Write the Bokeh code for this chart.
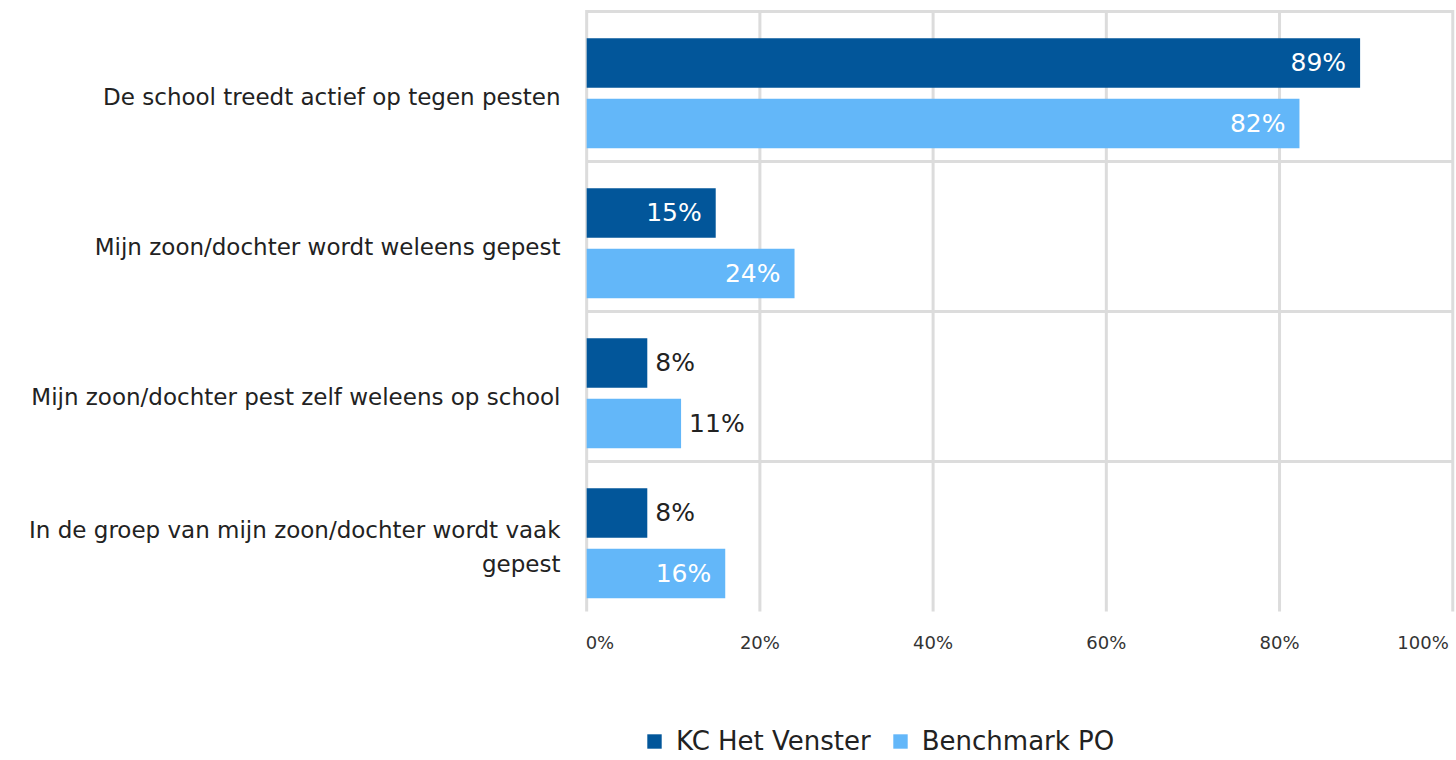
from bokeh.plotting import figure
from bokeh.models import FixedTicker, Legend, LegendItem, Range1d, ColumnDataSource
from bokeh.embed import file_html
from bokeh.resources import INLINE
from bokeh.core.properties import value

# ---- data ----
categories = [
    "De school treedt actief op tegen pesten",
    "Mijn zoon/dochter wordt weleens gepest",
    "Mijn zoon/dochter pest zelf weleens op school",
    "In de groep van mijn zoon/dochter wordt vaak\ngepest",
]
series_names = ["KC Het Venster", "Benchmark PO"]
kc_values = [89.3, 14.9, 7.0, 7.0]
kc_labels = ["89%", "15%", "8%", "8%"]
bench_values = [82.3, 24.0, 10.9, 16.0]
bench_labels = ["82%", "24%", "11%", "16%"]
x_ticks = [0, 20, 40, 60, 80, 100]
x_tick_labels = ["0%", "20%", "40%", "60%", "80%", "100%"]

# ---- style ----
DARK = "#02569a"
LIGHT = "#63b7f9"
GRID = "#dcdcdc"
TEXT = "#222222"
FONT = "DejaVu Sans"

n = len(categories)
p = figure(width=1456, height=760, output_backend="svg", toolbar_location=None,
           x_range=Range1d(-0.25, 100.43), y_range=Range1d(4.994, -0.0133),
           min_border_left=584, min_border_right=0, min_border_top=9, min_border_bottom=0)
p.outline_line_color = None
p.background_fill_color = "white"
p.grid.visible = False
p.xaxis.visible = False

# grid lines (only across the plotting area)
p.segment(x0=[x_ticks[0]] * n, x1=[x_ticks[-1]] * n, y0=list(range(n)), y1=list(range(n)),
          line_color=GRID, line_width=3)
p.segment(x0=x_ticks, x1=x_ticks, y0=[-0.01] * len(x_ticks), y1=[n] * len(x_ticks),
          line_color=GRID, line_width=3)

# category axis
label_pos = [i + 0.57 for i in range(n)]
p.yaxis.ticker = FixedTicker(ticks=label_pos)
p.yaxis.major_label_overrides = {pos: c for pos, c in zip(label_pos, categories)}
p.yaxis.axis_line_color = None
p.yaxis.major_tick_line_color = None
p.yaxis.minor_tick_line_color = None
p.yaxis.major_label_standoff = 18
p.yaxis.major_label_text_font = FONT
p.yaxis.major_label_text_font_size = "23px"
p.yaxis.major_label_text_color = TEXT
p.yaxis.major_label_text_line_height = 1.32

# bars
bar_h = 0.33
offsets = [0.343, 0.747]
renderers = []
for vals, labs, off, col in [(kc_values, kc_labels, offsets[0], DARK),
                             (bench_values, bench_labels, offsets[1], LIGHT)]:
    ys = [i + off for i in range(n)]
    src = ColumnDataSource(dict(y=ys, right=vals))
    r = p.hbar(y="y", right="right", left=0, height=bar_h, source=src,
               fill_color=col, line_color=None)
    renderers.append(r)
    inside = [v >= 12 for v in vals]
    tsrc = ColumnDataSource(dict(
        x=vals, y=ys, t=labs,
        xo=[-14 if f else 8 for f in inside],
        al=["right" if f else "left" for f in inside],
        c=["white" if f else TEXT for f in inside],
    ))
    p.text(x="x", y="y", text="t", x_offset="xo", text_align="al", text_color="c",
           text_baseline="middle", text_font=value(FONT), text_font_size="25px", source=tsrc)

# x tick labels
last = len(x_ticks) - 1
xsrc = ColumnDataSource(dict(
    x=x_ticks, y=[n] * len(x_ticks), t=x_tick_labels,
    al=["left" if i == 0 else "right" if i == last else "center" for i in range(len(x_ticks))],
    xo=[-1 if i == 0 else -4 if i == last else 0 for i in range(len(x_ticks))],
))
p.text(x="x", y="y", text="t", text_align="al", x_offset="xo", y_offset=31,
       text_baseline="middle", text_font=value(FONT), text_font_size="18px",
       text_color="#333333", source=xsrc)

legend = Legend(items=[LegendItem(label=s, renderers=[r]) for s, r in zip(series_names, renderers)],
                orientation="horizontal", location=(61, 4), padding=0, margin=0,
                spacing=20, glyph_width=18, glyph_height=18, label_standoff=13,
                label_text_font=FONT, label_text_font_size="26px", label_text_color=TEXT,
                border_line_color=None, background_fill_alpha=0)
p.add_layout(legend)

open("out.html", "w").write(file_html(p, INLINE))
